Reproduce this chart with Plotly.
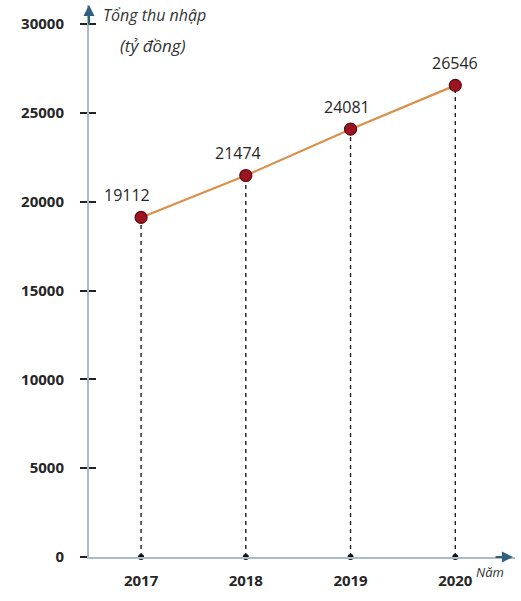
import plotly.graph_objects as go

years = [2017, 2018, 2019, 2020]
income = [19112, 21474, 24081, 26546]
income_labels = ["19112", "21474", "24081", "26546"]
y_ticks = [0, 5000, 10000, 15000, 20000, 25000, 30000]
y_tick_labels = ["0", "5000", "10000", "15000", "20000", "25000", "30000"]
y_title_1 = "Tổng thu nhập"
y_title_2 = "(tỷ đồng)"
x_title = "Năm"

axis_color = "#a9bccb"
arrow_color = "#2f5f7c"
text_color = "#262626"
font_fam = "Open Sans, Lato, sans-serif"

xr = [2016.503, 2020.57]
yr = [0, 31070]

fig = go.Figure()

# dashed drop lines
for xv, yv in zip(years, income):
    fig.add_trace(go.Scatter(x=[xv, xv], y=[0, yv], mode="lines",
                             line=dict(color="#222222", width=1.4, dash="4px,4px"),
                             showlegend=False, hoverinfo="skip"))

# dots on x axis
fig.add_trace(go.Scatter(x=years, y=[0] * len(years), mode="markers",
                         marker=dict(color="#111111", size=6),
                         showlegend=False, hoverinfo="skip", cliponaxis=False))

# main line
fig.add_trace(go.Scatter(x=years, y=income, mode="lines+markers",
                         line=dict(color="#d9904a", width=2.2),
                         marker=dict(color="#9b1520", size=12,
                                     line=dict(color="#5e0b10", width=1.2)),
                         showlegend=False, cliponaxis=False))

xshifts = [-14, -8, -4, 0]
for xv, yv, lab, xs in zip(years, income, income_labels, xshifts):
    fig.add_annotation(x=xv, y=yv, text=lab, showarrow=False, xshift=xs, yshift=22,
                       font=dict(family=font_fam, size=16, color=text_color))

# axis arrows
fig.add_annotation(x=xr[0], y=yr[1], ax=xr[0], ay=yr[1] - 1200, xref="x", yref="y",
                   axref="x", ayref="y", text="", showarrow=True, arrowhead=2,
                   arrowsize=1, arrowwidth=2.2, arrowcolor=arrow_color)
fig.add_annotation(x=xr[1] - 0.02, y=0, ax=xr[1] - 0.2, ay=0, xref="x", yref="y",
                   axref="x", ayref="y", text="", showarrow=True, arrowhead=2,
                   arrowsize=1, arrowwidth=2.2, arrowcolor=arrow_color)

# axis titles
fig.add_annotation(x=xr[0], y=yr[1], xref="x", yref="y", text="<i>" + y_title_1 + "</i>",
                   showarrow=False, xanchor="left", yanchor="middle",
                   xshift=12, yshift=-10,
                   font=dict(family=font_fam, size=16, color="#333333"))
fig.add_annotation(x=xr[0], y=yr[1], xref="x", yref="y", text="<i>" + y_title_2 + "</i>",
                   showarrow=False, xanchor="left", yanchor="middle",
                   xshift=29, yshift=-40,
                   font=dict(family=font_fam, size=17, color="#333333"))
fig.add_annotation(x=2020, y=0, xref="x", yref="y", text="<i>" + x_title + "</i>",
                   showarrow=False, xanchor="left", yanchor="middle",
                   xshift=19, yshift=-15,
                   font=dict(family=font_fam, size=13, color="#333333"))

fig.update_layout(
    width=521, height=601,
    margin=dict(l=89, r=6, t=5, b=44),
    plot_bgcolor="white", paper_bgcolor="white",
    xaxis=dict(range=xr, tickvals=years, ticktext=[str(y) for y in years],
               showgrid=False, zeroline=False, showline=True, linecolor=axis_color,
               linewidth=2, ticks="", tickfont=dict(family=font_fam, size=15,
                                                     color=text_color, weight="bold"),
               ticklabelstandoff=9),
    yaxis=dict(range=yr, tickvals=y_ticks, ticktext=y_tick_labels,
               showgrid=False, zeroline=False,
               showline=True, linecolor=axis_color, linewidth=2,
               ticks="outside", ticklen=7, tickwidth=1.5, tickcolor="#222222",
               tickfont=dict(family=font_fam, size=15, color=text_color, weight="bold"),
               ticklabelstandoff=13),
    yaxis2=dict(range=yr, tickvals=y_ticks[1:], overlaying="y", side="left",
                showgrid=False, zeroline=False, showline=False,
                ticks="inside", ticklen=7, tickwidth=1.5, tickcolor="#222222",
                showticklabels=False),
)
fig.add_trace(go.Scatter(x=[None], y=[None], yaxis="y2", showlegend=False))

fig.write_html("out.html")
